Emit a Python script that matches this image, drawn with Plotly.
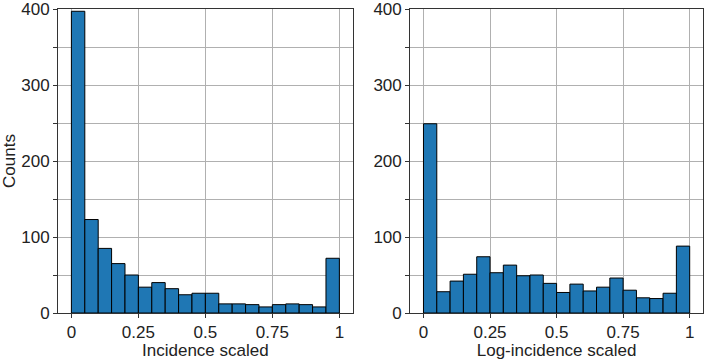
import plotly.graph_objects as go

# ---------------------------------------------------
# Data (20 bins of width 0.05 on [0, 1])
# ---------------------------------------------------

BIN_WIDTH = 0.05
BIN_CENTERS = [round(0.025 + i * BIN_WIDTH, 3) for i in range(20)]

INCIDENCE_COUNTS = [397, 123, 85, 65, 50, 34, 40, 32, 24, 26,
                    26, 12, 12, 11, 8, 11, 12, 11, 8, 72]
LOG_INCIDENCE_COUNTS = [249, 28, 42, 51, 74, 53, 63, 49, 50, 39,
                        27, 38, 29, 34, 46, 30, 20, 19, 26, 88]

X_TICKS = [0, 0.25, 0.5, 0.75, 1]
X_TICK_TEXT = ["0", "0.25", "0.5", "0.75", "1"]
Y_TICKS = [0, 100, 200, 300, 400]

BAR_COLOR = "#1f77b4"
FONT = "Liberation Sans, Arial, sans-serif"
FONT_SIZE = 17

# ---------------------------------------------------
# Figure
# ---------------------------------------------------

fig = go.Figure()

for counts, xa, ya in [
    (INCIDENCE_COUNTS, "x", "y"),
    (LOG_INCIDENCE_COUNTS, "x2", "y2"),
]:
    fig.add_trace(
        go.Bar(
            x=BIN_CENTERS,
            y=counts,
            width=BIN_WIDTH,
            marker={"color": BAR_COLOR, "line": {"color": "black", "width": 1}},
            xaxis=xa,
            yaxis=ya,
            showlegend=False,
        )
    )

common = dict(
    ticks="outside",
    ticklen=4,
    tickcolor="#333",
    showgrid=True,
    gridcolor="#b0b0b0",
    gridwidth=1,
    zeroline=False,
    showline=True,
    linecolor="#333",
    linewidth=1,
    mirror=True,
    automargin=False,
    ticklabeloverflow="allow",
    tickfont={"size": FONT_SIZE, "color": "#222"},
    title_font={"size": FONT_SIZE, "color": "#222"},
)
xaxis_style = dict(
    common,
    range=[-0.05, 1.05],
    tickvals=X_TICKS,
    ticktext=X_TICK_TEXT,
    title_standoff=0,
)
yaxis_style = dict(
    common,
    range=[0, 400],
    tickvals=Y_TICKS,
    minor={"dtick": 50, "showgrid": True, "gridcolor": "#b0b0b0",
           "ticks": "outside", "ticklen": 4, "tickcolor": "#333"},
    title_standoff=4,
)

fig.update_layout(
    width=708,
    height=360,
    margin={"l": 58, "r": 5, "t": 9, "b": 47},
    paper_bgcolor="white",
    plot_bgcolor="white",
    font={"family": FONT, "color": "#222"},
    barmode="overlay",
    xaxis=dict(xaxis_style, domain=[0, 0.457], anchor="y",
               title_text="Incidence scaled"),
    yaxis=dict(yaxis_style, domain=[0, 1], anchor="x",
               title_text="Counts"),
    xaxis2=dict(xaxis_style, domain=[0.546, 1], anchor="y2",
                title_text="Log-incidence scaled"),
    yaxis2=dict(yaxis_style, domain=[0, 1], anchor="x2"),
)

# drop the default 8px body margin so the figure fills the window
fig.write_html(
    "out.html",
    config={"displayModeBar": False},
    post_script="document.body.style.margin = '0';",
)
